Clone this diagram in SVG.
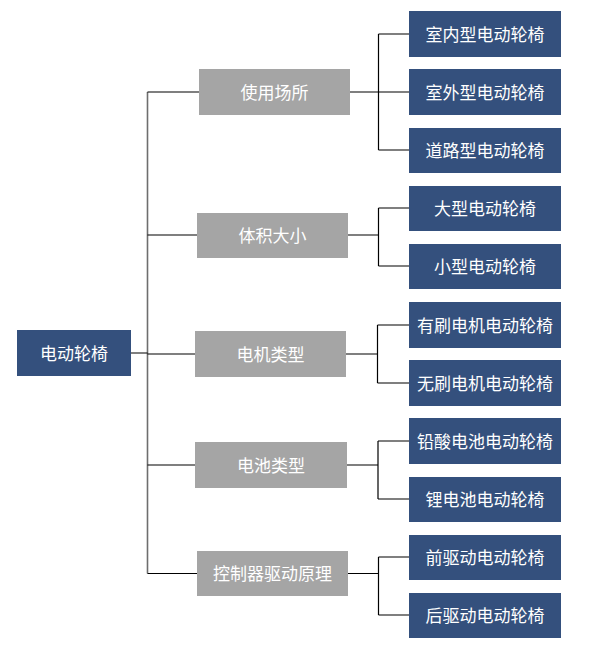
<svg xmlns="http://www.w3.org/2000/svg" width="599" height="646" viewBox="0 0 599 646">
<style>
.d{fill:#34507d}
.g{fill:#a5a5a5}
text{font-family:"Noto Sans CJK SC","Noto Sans",sans-serif;font-size:17px;fill:#ffffff;text-anchor:middle;dominant-baseline:central}
.c{stroke:#000;stroke-width:1.2;fill:none}
.t{stroke:#6e6e6e;stroke-width:1.6;fill:none}
</style>
<rect width="599" height="646" fill="#fff"/>
<g id="connectors">
<path class="t" d="M147.5 92V573.5"/>
<path class="c" d="M131 353H147.5M147.5 92H199M147.5 235H197M147.5 354H195M147.5 465H195M147.5 573.5H197"/>
<path class="c" d="M350 92H378.5M378.5 34V150M378.5 34H409M378.5 92H409M378.5 150H409"/>
<path class="c" d="M348 235H378.5M378.5 208V266M378.5 208H409M378.5 266H409"/>
<path class="c" d="M346 354H377.5M377.5 325V383M377.5 325H409M377.5 383H409"/>
<path class="c" d="M347 465H378M378 441V499M378 441H409M378 499H409"/>
<path class="c" d="M348 573.5H378.5M378.5 557V615M378.5 557H409M378.5 615H409"/>
</g>
<g id="root"><rect class="d" x="17" y="330" width="114" height="46"/><text x="74" y="352">电动轮椅</text></g>
<g id="n1"><rect class="g" x="199" y="69" width="151" height="46"/><text x="274.5" y="91">使用场所</text></g>
<g id="n2"><rect class="g" x="197" y="213" width="151" height="45"/><text x="272.5" y="234.5">体积大小</text></g>
<g id="n3"><rect class="g" x="195" y="331" width="151" height="46"/><text x="270.5" y="353">电机类型</text></g>
<g id="n4"><rect class="g" x="195" y="442" width="152" height="46"/><text x="271" y="464">电池类型</text></g>
<g id="n5"><rect class="g" x="197" y="551" width="151" height="45"/><text x="272.5" y="572.5">控制器驱动原理</text></g>
<g id="l1"><rect class="d" x="409" y="11" width="152" height="46"/><text x="485" y="33">室内型电动轮椅</text></g>
<g id="l2"><rect class="d" x="409" y="69" width="152" height="46"/><text x="485" y="91">室外型电动轮椅</text></g>
<g id="l3"><rect class="d" x="409" y="128" width="152" height="45"/><text x="485" y="149.5">道路型电动轮椅</text></g>
<g id="l4"><rect class="d" x="409" y="186" width="152" height="45"/><text x="485" y="207.5">大型电动轮椅</text></g>
<g id="l5"><rect class="d" x="409" y="244" width="152" height="45"/><text x="485" y="265.5">小型电动轮椅</text></g>
<g id="l6"><rect class="d" x="409" y="302" width="152" height="46"/><text x="485" y="324">有刷电机电动轮椅</text></g>
<g id="l7"><rect class="d" x="409" y="360" width="152" height="46"/><text x="485" y="382">无刷电机电动轮椅</text></g>
<g id="l8"><rect class="d" x="409" y="418" width="152" height="46"/><text x="485" y="440">铅酸电池电动轮椅</text></g>
<g id="l9"><rect class="d" x="409" y="477" width="152" height="45"/><text x="485" y="498.5">锂电池电动轮椅</text></g>
<g id="l10"><rect class="d" x="409" y="535" width="152" height="45"/><text x="485" y="556.5">前驱动电动轮椅</text></g>
<g id="l11"><rect class="d" x="409" y="593" width="152" height="45"/><text x="485" y="614.5">后驱动电动轮椅</text></g>
</svg>
